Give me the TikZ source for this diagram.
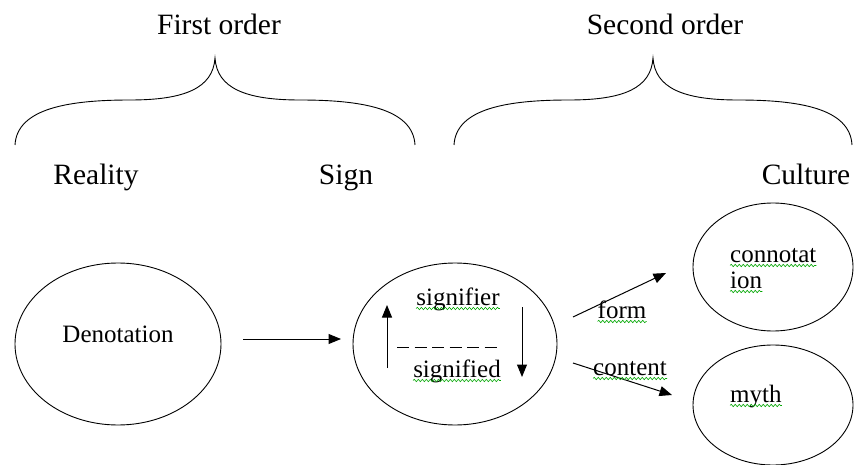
\documentclass[tikz,border=0pt]{standalone}
\usepackage{fontspec}
\setmainfont{Liberation Serif}
\usetikzlibrary{shapes.geometric,arrows.meta,calc,decorations.pathmorphing}
\begin{document}
\begin{tikzpicture}[x=1pt,y=-1pt,
  big/.style={font=\fontsize{29.5}{34}\selectfont, anchor=base, inner sep=0pt},
  small/.style={font=\fontsize{25}{30}\selectfont, anchor=base, inner sep=0pt},
  oval/.style={draw, ellipse, line width=0.9pt, inner sep=0pt},
  arr/.style={line width=1pt, -{Triangle[length=12.5pt,width=10pt]}},
  brace/.style={line width=0.9pt},
  squig/.style={draw=green!65!black, line width=0.6pt, decorate,
     decoration={snake, segment length=4pt, amplitude=1.2pt}}
]
\useasboundingbox (0,0) rectangle (854,465);

% headings
\node[big] (first) at (219,35) {First order};
\node[big] (second) at (665,35) {Second order};
\node[big] (reality) at (96,185) {Reality};
\node[big] (signlbl) at (346,185) {Sign};
\node[big] (culture) at (806,185) {Culture};

% braces
\coordinate (b1l) at (15,145);
\coordinate (b1t) at (215,58);
\coordinate (b1r) at (415,145);
\draw[brace] (b1l) .. controls (17,108) and (70,100) .. (130,100)
  .. controls (185,100) and (213,88) .. (b1t)
  .. controls (217,88) and (245,100) .. (300,100)
  .. controls (360,100) and (413,108) .. (b1r);
\coordinate (b2l) at (454,145);
\coordinate (b2t) at (653,58);
\coordinate (b2r) at (852,145);
\draw[brace] (b2l) .. controls (456,108) and (509,100) .. (569,100)
  .. controls (624,100) and (651,88) .. (b2t)
  .. controls (655,88) and (683,100) .. (738,100)
  .. controls (798,100) and (850,108) .. (b2r);

% ellipses
\node[oval, minimum width=206pt, minimum height=162pt] (den) at (118,344) {};
\node[oval, minimum width=204pt, minimum height=162pt] (sign) at (455,344) {};
\node[oval, minimum width=160pt, minimum height=128pt] (conn) at (773,267) {};
\node[oval, minimum width=160pt, minimum height=120pt] (myth) at (773,405) {};

% labels inside
\node[small] (dentxt) at (118,342) {Denotation};
\node[small] (sfier) at (458,305) {signifier};
\node[small] (sfied) at (457,377) {signified};
\node[small, anchor=base west] (conn1) at (730,262) {connotat};
\node[small, anchor=base west] (conn2) at (730,288) {ion};
\node[small, anchor=base west] (mythtxt) at (730,402) {myth};
\node[small] (form) at (622,318) {form};
\node[small] (content) at (630,375) {content};

% connectors
\draw[arr] ($(den.center)+(125,-5)$) -- ($(sign.center)+(-114,-5)$);
\draw[arr] ($(sign.center)+(-68,24)$) -- ($(sign.center)+(-68,-39)$);
\draw[arr] ($(sign.center)+(67,-37)$) -- ($(sign.center)+(67,33)$);
\draw[line width=1pt, dash pattern=on 12pt off 5.5pt] ($(sign.center)+(-58,3)$) -- ($(sign.center)+(46,3)$);
\draw[arr] ($(sign.center)+(118,-27)$) -- ($(conn.center)+(-107,6)$);
\draw[arr] ($(sign.center)+(118,19)$) -- ($(myth.center)+(-101,-10)$);

% spell-check squiggles
\foreach \n in {sfier,sfied,conn1,conn2,mythtxt,form,content}
  \draw[squig] ($(\n.base west)+(0,3.5)$) -- ($(\n.base east)+(0,3.5)$);
\end{tikzpicture}
\end{document}
